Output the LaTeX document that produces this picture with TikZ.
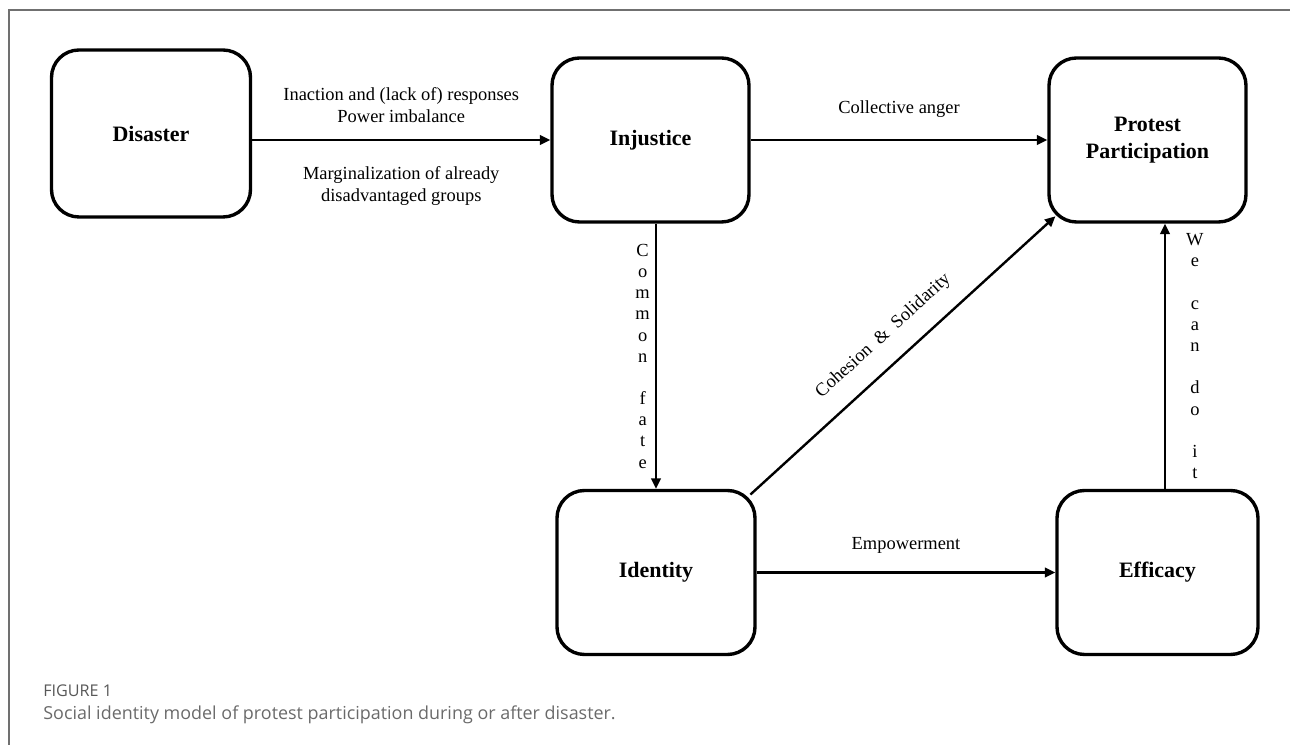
\documentclass[tikz,border=0pt]{standalone}
\usepackage{fontspec}
\setmainfont{Liberation Serif}
\newfontfamily\capfont{Open Sans}
\usetikzlibrary{arrows.meta}
\definecolor{framegray}{HTML}{707070}
\definecolor{figgray}{HTML}{585858}
\definecolor{capgray}{HTML}{6A6A6A}

\begin{document}
\begin{tikzpicture}[>={Triangle[length=0.21cm,width=0.19cm]},auto,
	block/.style={draw,line width=0.068cm,rounded corners=0.55cm,minimum width=3.96cm,minimum height=3.28cm,align=center,font=\fontsize{12.5}{15}\selectfont\bfseries},
	link/.style={->,line width=0.048cm},
	lbl/.style={font=\fontsize{10.5}{12.5}\selectfont,align=center},
	vlbl/.style={font=\fontsize{10.5}{12.05}\selectfont,align=center,inner sep=0.1cm}]

\useasboundingbox (0,0) rectangle (25.8,14.9);
\draw[framegray,line width=0.03cm] (0.18,-0.1) -- (0.18,14.7) -- (25.9,14.7);

\node[block,minimum width=3.98cm,minimum height=3.34cm]   (dis) at (3.02,12.23)   {Disaster};
\node[block,minimum width=3.94cm]   (inj) at (13.01,12.1)   {Injustice};
\node[block,minimum width=3.94cm]   (pro) at (22.95,12.1)   {Protest\\Participation};
\node[block]   (ide) at (13.12,3.45)   {Identity};
\node[block,minimum width=4.02cm]   (eff) at (23.15,3.45)   {Efficacy};

	\draw[link] (dis.east |- inj.west) -- node[lbl,above=0.2cm]{Inaction and (lack of) responses\\Power imbalance}
				node[lbl,below=0.38cm]{Marginalization of already\\disadvantaged groups} (inj.west);
	\path[link] (inj)  edge	node[lbl,above=0.3cm]{Collective anger} 	(pro)
				(ide)  edge	node[lbl,above=0.24cm]{Empowerment} 	(eff);
	\draw[link] (inj.south -| ide.north) -- node[vlbl,left=0pt]{C\\o\\m\\m\\o\\n\\~\\f\\a\\t\\e} (ide.north);
	\draw[link] ([xshift=0.15cm]eff.north) -- node[vlbl,right=0.3cm]{W\\e\\~\\c\\a\\n\\~\\d\\o\\~\\i\\t} ([xshift=0.15cm]eff.north |- pro.south);
	\draw[link,shorten <=-0.17cm,shorten >=-0.22cm] (ide.north east) -- node[lbl,sloped,above=0.24cm]{Cohesion~~\&~~Solidarity} (pro.south west);

\node[anchor=base west,inner sep=0,font=\capfont\fontsize{9.2}{10}\selectfont,text=figgray] (fig) at (0.86,0.96) {FIGURE 1};
\node[anchor=base west,inner sep=0,font=\capfont\fontsize{10.2}{11}\selectfont,text=capgray] (cap) at (0.86,0.5) {Social identity model of protest participation during or after disaster.};
	\end{tikzpicture}
\end{document}
